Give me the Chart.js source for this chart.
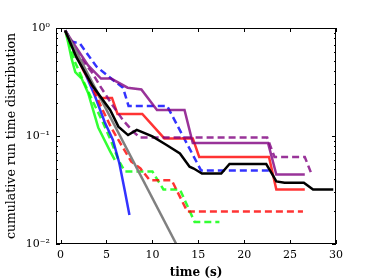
<!DOCTYPE html>
<html>
<head>
<meta charset="utf-8">
<script src="https://cdn.jsdelivr.net/npm/chart.js@4"></script>
<style>
  html, body { margin: 0; padding: 0; background: #fff; }
  canvas { display: block; }
</style>
</head>
<body>
<canvas id="grafico" width="374" height="280"></canvas>
<script>
// valores (tempo em s, distribuição acumulada)
var blackT = [0.5, 1.7, 3.5, 5.4, 6.3, 7.35, 8.3, 10.0, 11.5, 13.0, 14.05, 14.5, 15.4, 17.5, 18.4, 22.4, 23.0, 23.5, 24.4, 26.5, 27.5, 29.7];
var blackY = [0.95, 0.54, 0.29, 0.174, 0.122, 0.102, 0.114, 0.099, 0.083, 0.069, 0.052, 0.05, 0.045, 0.045, 0.055, 0.055, 0.045, 0.038, 0.037, 0.037, 0.032, 0.032];

var blueT = [0.5, 2.4, 3.7, 4.8, 5.7, 6.4, 7.0, 7.5];
var blueY = [0.95, 0.43, 0.24, 0.135, 0.092, 0.056, 0.031, 0.0186];

var blueDT = [0.5, 1.2, 2.1, 3.9, 5.7, 6.8, 7.4, 11.6, 15.3, 23.0];
var blueDY = [0.95, 0.75, 0.72, 0.44, 0.33, 0.28, 0.19, 0.19, 0.048, 0.048];

var greenT = [0.5, 0.8, 1.2, 1.6, 2.3, 3.0, 4.1, 5.4, 5.9];
var greenY = [0.95, 0.75, 0.52, 0.39, 0.34, 0.25, 0.12, 0.072, 0.06];

var greenDT = [0.5, 1.0, 1.5, 2.5, 3.5, 4.5, 5.5, 6.3, 7.0, 10.0, 11.2, 13.0, 14.6, 17.3];
var greenDY = [0.95, 0.72, 0.5, 0.32, 0.21, 0.14, 0.09, 0.06, 0.047, 0.047, 0.032, 0.032, 0.016, 0.016];

var redT = [0.5, 2.5, 4.3, 5.6, 6.2, 8.9, 11.3, 14.4, 15.1, 22.7, 23.5, 26.6];
var redY = [0.95, 0.4, 0.225, 0.225, 0.16, 0.16, 0.095, 0.095, 0.064, 0.064, 0.032, 0.032];

var redDT = [0.5, 1.5, 2.5, 3.5, 4.5, 5.5, 6.6, 7.7, 8.7, 9.7, 12.1, 13.8, 26.4];
var redDY = [0.95, 0.62, 0.42, 0.28, 0.18, 0.12, 0.083, 0.058, 0.05, 0.039, 0.039, 0.02, 0.02];

var purpleT = [0.5, 1.5, 3.0, 4.4, 5.5, 7.3, 8.8, 10.5, 13.5, 14.4, 22.6, 23.5, 26.6];
var purpleY = [0.95, 0.7, 0.45, 0.34, 0.34, 0.28, 0.27, 0.174, 0.174, 0.086, 0.086, 0.044, 0.044];

var purpleDT = [0.5, 2.0, 3.4, 4.3, 5.7, 6.8, 7.9, 8.6, 22.5, 23.3, 26.6, 27.4];
var purpleDY = [0.95, 0.55, 0.39, 0.29, 0.19, 0.14, 0.11, 0.097, 0.097, 0.064, 0.064, 0.043];

var grayT = [0.5, 12.6];
var grayY = [0.95, 0.01];

var xTicks = [0, 5, 10, 15, 20, 25, 30];
var yTicks = [0.01, 0.1, 1];
var yTickLabels = ["10\u207B\u00B2", "10\u207B\u00B9", "10\u2070"];

var fonte = "'DejaVu Serif', 'Liberation Serif', serif";
var tracejado = [7, 4];

function pontos(xs, ys) {
  return xs.map(function (x, i) { return { x: x, y: ys[i] }; });
}
function serie(xs, ys, cor, dash) {
  return {
    data: pontos(xs, ys), borderColor: cor, borderWidth: 2.5,
    borderDash: dash || [], pointRadius: 0, tension: 0, fill: false
  };
}

// moldura e marcas para dentro (estilo matplotlib)
var moldura = {
  id: "moldura",
  afterDraw: function (c) {
    var ctx = c.ctx, a = c.chartArea, xs = c.scales.x, ys = c.scales.y;
    ctx.save();
    ctx.strokeStyle = "#000"; ctx.lineWidth = 1;
    ctx.strokeRect(a.left + 0.5, a.top + 0.5, a.right - a.left - 1, a.bottom - a.top - 1);
    ctx.beginPath();
    xTicks.forEach(function (v) {
      var px = Math.round(xs.getPixelForValue(v)) + 0.5;
      ctx.moveTo(px, a.bottom); ctx.lineTo(px, a.bottom - 4);
      ctx.moveTo(px, a.top); ctx.lineTo(px, a.top + 4);
    });
    for (var d = 0.01; d < 1; d *= 10) {
      for (var m = 1; m <= 9; m++) {
        var v = d * m;
        var py = Math.round(ys.getPixelForValue(v)) + 0.5;
        var len = m === 1 ? 4 : 2;
        ctx.moveTo(a.left, py); ctx.lineTo(a.left + len, py);
        ctx.moveTo(a.right, py); ctx.lineTo(a.right - len, py);
      }
    }
    var pt = Math.round(ys.getPixelForValue(1)) + 0.5;
    ctx.moveTo(a.left, pt); ctx.lineTo(a.left + 4, pt);
    ctx.moveTo(a.right, pt); ctx.lineTo(a.right - 4, pt);
    ctx.stroke();
    ctx.restore();
  }
};

new Chart(document.getElementById("grafico"), {
  type: "line",
  data: {
    datasets: [
      serie(blackT, blackY, "#000000"),
      serie(grayT, grayY, "#808080"),
      serie(purpleT, purpleY, "rgba(128,0,128,0.8)"),
      serie(purpleDT, purpleDY, "rgba(128,0,128,0.8)", tracejado),
      serie(redT, redY, "rgba(255,0,0,0.8)"),
      serie(redDT, redDY, "rgba(255,0,0,0.8)", tracejado),
      serie(blueT, blueY, "rgba(0,0,255,0.8)"),
      serie(blueDT, blueDY, "rgba(0,0,255,0.8)", tracejado),
      serie(greenT, greenY, "rgba(0,255,0,0.8)"),
      serie(greenDT, greenDY, "rgba(0,255,0,0.8)", tracejado)
    ]
  },
  plugins: [moldura],
  options: {
    responsive: false, animation: false,
    layout: { padding: { left: 0, right: 38, top: 28, bottom: 0 } },
    plugins: { legend: { display: false }, tooltip: { enabled: false } },
    scales: {
      x: {
        type: "linear", min: -0.5, max: 30,
        afterBuildTicks: function (s) { s.ticks = xTicks.map(function (v) { return { value: v }; }); },
        afterFit: function (s) { s.height = 36; },
        grid: { display: false, drawTicks: false },
        border: { display: false },
        ticks: { color: "#000", padding: 5, maxRotation: 0, font: { family: fonte, size: 11 } },
        title: { display: true, text: "time (s)", color: "#000", padding: 0,
                 font: { family: fonte, size: 12, weight: "bold" } }
      },
      y: {
        type: "logarithmic", min: 0.01, max: 1,
        afterBuildTicks: function (s) { s.ticks = yTicks.map(function (v) { return { value: v }; }); },
        afterFit: function (s) { s.width = 56; },
        grid: { display: false, drawTicks: false },
        border: { display: false },
        ticks: {
          color: "#000", padding: 6, font: { family: fonte, size: 11 },
          callback: function (v) { return yTickLabels[yTicks.indexOf(v)] || ""; }
        },
        title: { display: true, text: "cumulative run time distribution", color: "#000",
                 padding: { top: 4, bottom: 0 }, font: { family: fonte, size: 12.5 } }
      }
    }
  }
});
</script>
</body>
</html>
